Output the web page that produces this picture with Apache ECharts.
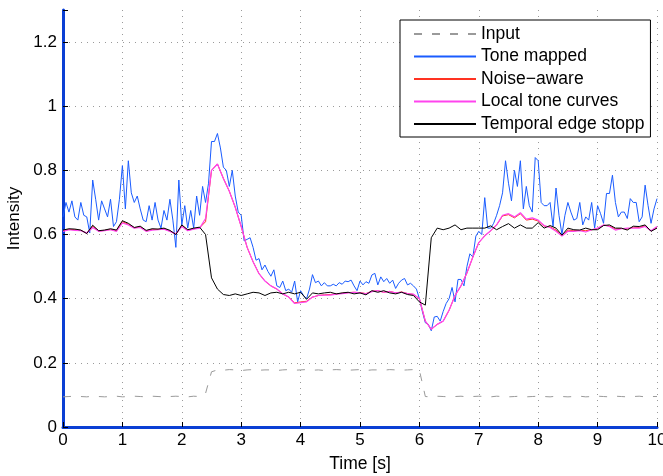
<!DOCTYPE html>
<html>
<head>
    <meta charset="utf-8">
    <script src="https://cdn.jsdelivr.net/npm/echarts@6/dist/echarts.min.js"></script>
</head>
<body style="margin:0">
    <div id="main" style="width: 663px; height: 476px"></div>
    <script type="text/javascript">
        // tone mapped: sampled every 0.05 s, the rest every 0.1 s
        var fineStep = 0.05;
        var coarseStep = 0.1;

        var toneMapped = [
            0.655,0.70,0.67,0.705,0.655,0.645,0.70,0.66,0.655,0.605,0.77,0.71,0.645,0.705,0.68,0.655,0.71,0.625,0.64,0.71,
            0.815,0.68,0.83,0.73,0.70,0.72,0.68,0.645,0.64,0.69,0.645,0.70,0.645,0.62,0.675,0.645,0.71,0.645,0.56,0.77,
            0.63,0.69,0.62,0.675,0.62,0.72,0.66,0.75,0.70,0.76,0.89,0.89,0.915,0.87,0.81,0.80,0.75,0.80,0.72,0.67,
            0.66,0.58,0.585,0.59,0.56,0.52,0.525,0.49,0.505,0.485,0.47,0.49,0.44,0.435,0.455,0.425,0.43,0.42,0.455,0.39,
            0.425,0.41,0.40,0.43,0.475,0.45,0.455,0.44,0.45,0.44,0.44,0.445,0.44,0.45,0.445,0.455,0.453,0.458,0.44,0.425,
            0.455,0.443,0.453,0.448,0.474,0.479,0.443,0.468,0.453,0.463,0.448,0.458,0.432,0.448,0.458,0.463,0.443,0.448,0.44,0.43,
            0.40,0.36,0.325,0.32,0.30,0.343,0.345,0.33,0.36,0.385,0.40,0.435,0.39,0.46,0.46,0.44,0.50,0.54,0.53,0.595,
            0.61,0.60,0.715,0.62,0.62,0.635,0.66,0.69,0.73,0.83,0.76,0.705,0.80,0.75,0.83,0.68,0.75,0.69,0.67,0.84,
            0.83,0.70,0.69,0.69,0.70,0.625,0.745,0.66,0.60,0.66,0.70,0.67,0.645,0.65,0.70,0.63,0.655,0.645,0.70,0.62,
            0.69,0.665,0.635,0.728,0.728,0.785,0.70,0.655,0.67,0.67,0.65,0.712,0.70,0.70,0.64,0.655,0.754,0.69,0.635,0.68,
            0.712
        ];

        var inputSig = [
            0.094,0.095,0.096,0.095,0.094,0.096,0.095,0.094,0.095,0.096,0.094,0.095,0.096,0.095,0.094,0.096,0.095,0.094,0.095,0.096,0.095,0.094,0.096,0.095,
            0.105,0.172,
            0.178,0.177,0.179,0.178,0.176,0.178,0.179,0.177,0.178,0.178,0.176,0.178,0.179,0.177,0.178,0.179,0.177,0.178,0.176,0.178,
            0.179,0.178,0.177,0.178,0.179,0.176,0.178,0.178,0.177,0.179,0.178,0.177,0.178,0.179,0.177,
            0.095,0.094,0.096,0.095,0.094,0.095,0.096,0.094,0.095,0.096,0.095,0.094,0.096,0.095,0.094,0.095,0.096,0.094,0.095,0.096,
            0.095,0.094,0.096,0.095,0.094,0.095,0.096,0.094,0.095,0.096,0.095,0.094,0.096,0.095,0.094,0.095,0.096,0.094,0.095,0.095
        ];

        var noiseAware = [
            0.612,0.616,0.615,0.613,0.604,0.626,0.611,0.613,0.616,0.612,0.64,0.632,0.621,0.624,0.611,0.616,0.616,0.618,0.611,0.601,0.628,0.613,0.618,0.621,0.64,
            0.80,0.82,0.775,0.735,0.685,0.625,0.56,0.515,0.478,0.455,0.44,0.43,0.415,0.405,0.387,0.39,0.392,0.405,0.41,0.412,0.413,0.415,0.417,0.419,
            0.42,0.419,0.416,0.423,0.425,0.42,0.423,0.418,0.421,0.416,0.413,
            0.40,0.33,0.305,0.32,0.33,0.364,0.41,0.44,0.48,0.53,0.575,0.596,0.612,0.63,0.658,0.662,0.652,0.665,0.645,0.648,
            0.642,0.626,0.624,0.614,0.597,0.614,0.612,0.613,0.612,0.615,0.618,0.629,0.627,0.617,0.619,0.617,0.623,0.622,0.627,0.611,0.622
        ];

        var localCurves = [
            0.61,0.615,0.613,0.612,0.605,0.622,0.61,0.612,0.615,0.61,0.636,0.63,0.62,0.622,0.61,0.614,0.615,0.617,0.61,0.602,0.625,0.612,0.617,0.62,0.65,
            0.80,0.82,0.775,0.735,0.685,0.625,0.56,0.515,0.478,0.455,0.44,0.43,0.415,0.405,0.385,0.388,0.39,0.405,0.41,0.411,0.411,0.414,0.416,0.418,
            0.42,0.418,0.415,0.422,0.425,0.42,0.422,0.418,0.42,0.416,0.414,
            0.40,0.33,0.305,0.32,0.33,0.364,0.41,0.44,0.48,0.53,0.575,0.596,0.612,0.63,0.66,0.665,0.655,0.668,0.648,0.652,
            0.645,0.628,0.622,0.61,0.595,0.61,0.61,0.612,0.608,0.615,0.62,0.63,0.625,0.614,0.618,0.62,0.62,0.62,0.625,0.612,0.625
        ];

        var edgeStop = [
            0.614,0.618,0.617,0.614,0.603,0.629,0.612,0.614,0.618,0.614,0.643,0.635,0.622,0.626,0.613,0.618,0.617,0.62,0.613,0.60,0.63,0.615,0.62,0.623,0.60,
            0.465,0.43,0.413,0.41,0.415,0.41,0.415,0.42,0.418,0.41,0.418,0.42,0.415,0.42,0.415,0.42,0.398,0.418,0.415,0.418,0.42,0.415,0.418,0.42,
            0.415,0.418,0.412,0.425,0.42,0.425,0.418,0.415,0.42,0.413,0.41,
            0.39,0.38,0.59,0.62,0.615,0.62,0.63,0.615,0.62,0.62,0.62,0.62,0.627,0.615,0.625,0.634,0.62,0.63,0.62,0.62,
            0.637,0.62,0.628,0.62,0.598,0.62,0.615,0.614,0.62,0.615,0.615,0.628,0.63,0.62,0.62,0.614,0.626,0.625,0.63,0.61,0.62
        ];

        var xTicks = [0, 1, 2, 3, 4, 5, 6, 7, 8, 9, 10];
        var yTicks = [0, 0.2, 0.4, 0.6, 0.8, 1, 1.2];

        function pairs(values, step) {
            var out = [];
            for (var i = 0; i < values.length; i++) {
                out.push([+(i * step).toFixed(2), values[i]]);
            }
            return out;
        }

        var font = 'Liberation Sans, Helvetica, Arial, sans-serif';
        var axisBlue = '#0a3fd4';
        var gridStyle = { color: '#9a9a9a', width: 1, type: [1, 5] };

        var myChart = echarts.init(document.getElementById('main'));
        var option = {
            animation: false,
            backgroundColor: '#fff',
            textStyle: { fontFamily: font },
            grid: { left: 63, right: 6, top: 10, bottom: 49, containLabel: false, outerBoundsMode: 'none' },
            legend: {
                orient: 'vertical',
                left: 400,
                top: 20,
                padding: [5, 6, 4, 13],
                itemWidth: 62,
                itemHeight: 14,
                itemGap: 4.5,
                backgroundColor: '#fff',
                borderColor: '#000',
                borderWidth: 1,
                borderRadius: 0,
                selectedMode: false,
                itemStyle: { opacity: 0 },
                textStyle: { fontSize: 17.5, color: '#000', lineHeight: 17, fontFamily: font },
                data: ['Input', 'Tone mapped', 'Noise\u2212aware', 'Local tone curves', 'Temporal edge stopp']
            },
            xAxis: {
                type: 'value',
                min: xTicks[0],
                max: xTicks[xTicks.length - 1],
                interval: 1,
                name: 'Time [s]',
                nameLocation: 'middle',
                nameGap: 28,
                nameTextStyle: { fontSize: 17.5, color: '#000' },
                axisLine: { show: true, onZero: false, lineStyle: { color: axisBlue, width: 3 } },
                axisTick: { show: true, inside: true, length: 5, lineStyle: { color: '#000' } },
                axisLabel: { fontSize: 17, color: '#000', margin: 5 },
                splitLine: { show: true, lineStyle: gridStyle }
            },
            yAxis: {
                type: 'value',
                min: 0,
                max: 1.3,
                interval: 0.2,
                name: 'Intensity',
                nameLocation: 'middle',
                nameGap: 37,
                nameRotate: 90,
                nameTextStyle: { fontSize: 17, color: '#000' },
                axisLine: { show: true, onZero: false, lineStyle: { color: axisBlue, width: 3 } },
                axisTick: { show: true, inside: true, length: 5, lineStyle: { color: '#000' } },
                axisLabel: {
                    fontSize: 17, color: '#000', margin: 6,
                    formatter: function (v) {
                        for (var i = 0; i < yTicks.length; i++) {
                            if (Math.abs(yTicks[i] - v) < 1e-6) return String(yTicks[i]);
                        }
                        return '';
                    }
                },
                splitLine: {
                    show: true,
                    lineStyle: {
                        color: ['#9a9a9a', '#9a9a9a', '#9a9a9a', '#9a9a9a', '#9a9a9a', '#9a9a9a', '#9a9a9a', 'rgba(0,0,0,0)'],
                        width: 1, type: [1, 5]
                    }
                }
            },
            series: [
                {
                    name: 'Input', type: 'line', symbol: 'none',
                    data: pairs(inputSig, coarseStep),
                    lineStyle: { color: '#9a9a9a', width: 1, type: [8, 10] },
                    itemStyle: { color: '#9a9a9a' }
                },
                {
                    name: 'Tone mapped', type: 'line', symbol: 'none',
                    data: pairs(toneMapped, fineStep),
                    lineStyle: { color: '#1a5cff', width: 1 },
                    itemStyle: { color: '#1a5cff' }
                },
                {
                    name: 'Noise\u2212aware', type: 'line', symbol: 'none',
                    data: pairs(noiseAware, coarseStep),
                    lineStyle: { color: '#ff3322', width: 1 },
                    itemStyle: { color: '#ff3322' }
                },
                {
                    name: 'Local tone curves', type: 'line', symbol: 'none',
                    data: pairs(localCurves, coarseStep),
                    lineStyle: { color: '#ff44ee', width: 1.2 },
                    itemStyle: { color: '#ff44ee' }
                },
                {
                    name: 'Temporal edge stopp', type: 'line', symbol: 'none',
                    data: pairs(edgeStop, coarseStep),
                    lineStyle: { color: '#000000', width: 1 },
                    itemStyle: { color: '#000000' }
                }
            ]
        };
        myChart.setOption(option);
    </script>
</body>
</html>
